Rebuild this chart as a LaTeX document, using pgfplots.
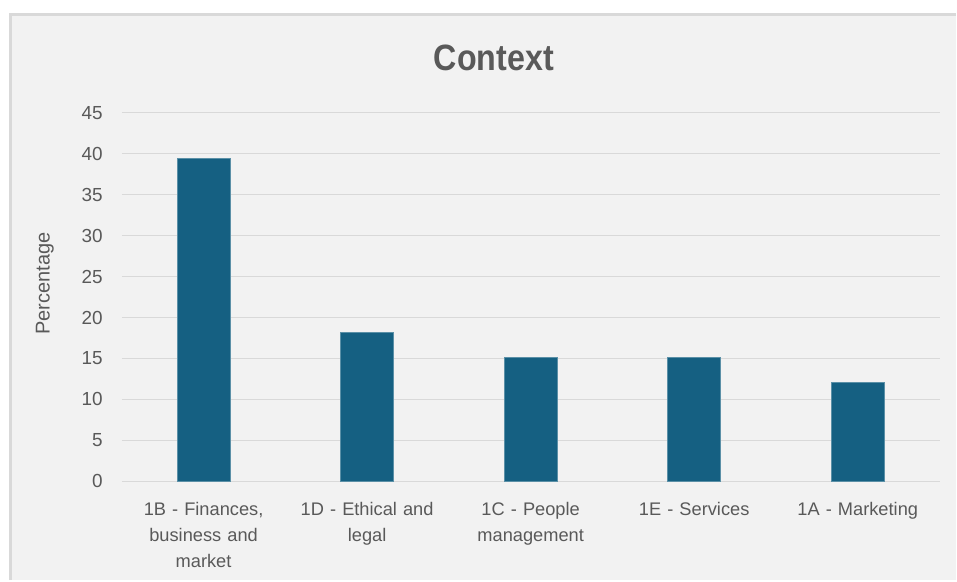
\documentclass[border=0pt]{standalone}
\usepackage{fontspec}
\setmainfont{Liberation Sans}
\newfontfamily\titlefont[FakeStretch=0.88]{Liberation Sans}
\usepackage{pgfplots}
\pgfplotsset{compat=1.18}
\definecolor{panel}{HTML}{F2F2F2}
\definecolor{framec}{HTML}{D9D9D9}
\definecolor{txt}{HTML}{595959}
\definecolor{barc}{HTML}{156082}
\definecolor{gridc}{HTML}{D9D9D9}
\begin{document}
\begin{tikzpicture}
\fill[white] (0pt,0pt) rectangle (717.75pt,435.75pt);
\fill[panel] (6.75pt,0pt) rectangle (717.75pt,426pt);
\draw[framec, line width=2.25pt] (7.875pt,0pt) -- (7.875pt,424.875pt) -- (717.75pt,424.875pt);
\useasboundingbox (0pt,0pt) rectangle (717.75pt,435.75pt);
\begin{axis}[
  at={(91.5pt,74.25pt)}, anchor=south west,
  scale only axis, width=614.25pt, height=276.75pt,
  xmin=-0.5, xmax=4.5, ymin=0, ymax=45,
  ytick={0,5,...,45},
  xtick={0,1,2,3,4},
  xticklabels={{1B - Finances,\\business and\\market},{1D - Ethical and\\legal},{1C - People\\management},{1E - Services},{1A - Marketing}},
  axis line style={draw=none},
  major tick length=0pt,
  ymajorgrids, grid style={gridc, line width=1pt},
  /pgf/number format/assume math mode=true,
  yticklabel style={font=\fontsize{14.2}{16}\selectfont, text=txt, inner sep=0pt, xshift=-14.25pt, anchor=east},
  xticklabel style={font=\fontsize{13.7}{19.5}\selectfont, text=txt, inner sep=0pt, yshift=-15.5pt, anchor=north, align=center, text width=115pt},
  ylabel={Percentage},
  ylabel style={at={(axis description cs:-0.094,0.537)}, anchor=center, font=\fontsize{15}{18}\selectfont, text=txt},
  title={Context},
  title style={at={(axis description cs:0.455,1.127)}, anchor=center, font=\titlefont\bfseries\fontsize{27.5}{31}\selectfont, text=txt},
  clip=false,
]
\addplot[ybar, bar width=39.75pt, fill=barc, draw=barc!70!white, line width=0.5pt] coordinates {
  (0,39.39) (1,18.18) (2,15.15) (3,15.15) (4,12.12)
};
\end{axis}
\end{tikzpicture}
\end{document}
